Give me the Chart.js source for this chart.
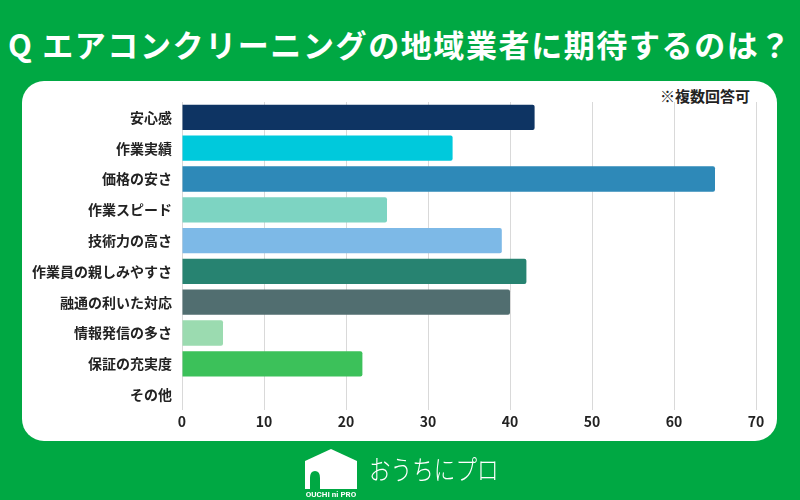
<!DOCTYPE html>
<html lang="ja">
<head>
<meta charset="utf-8">
<script src="https://cdn.jsdelivr.net/npm/chart.js@4"></script>
<style>
  html, body { margin: 0; padding: 0; }
  body {
    width: 800px; height: 500px; overflow: hidden; position: relative;
    background: #00a843;
    font-family: "Noto Sans CJK JP", "Noto Sans", sans-serif;
  }
  #title {
    position: absolute; left: 0; top: 21px; width: 800px;
    text-align: center; color: #fff; font-weight: 700; font-size: 31px;
    line-height: 46px; white-space: nowrap; letter-spacing: 1.6px;
  }
  #panel {
    position: absolute; left: 22px; top: 81px; width: 755px; height: 360px;
    background: #fff; border-radius: 22px;
  }
  #note {
    position: absolute; left: 660px; top: 86px; color: #222;
    font-weight: 700; font-size: 15px; line-height: 20px;
  }
  #chart { position: absolute; left: 0; top: 0; }
  #logo { position: absolute; left: 304px; top: 448px; }
  #brand {
    position: absolute; left: 369px; top: 449px; color: #fff;
    font-size: 27px; font-weight: 300; line-height: 40px;
    transform: scaleX(0.8); transform-origin: left center; white-space: nowrap;
  }
</style>
</head>
<body>
<div id="title">Q エアコンクリーニングの地域業者に期待するのは？</div>
<div id="panel"></div>
<div id="note">※複数回答可</div>
<canvas id="chart" width="800" height="500"></canvas>
<svg id="logo" width="54" height="50" viewBox="0 0 54 50">
  <path d="M1 13 L27 1 L53 13 L53 41 L1 41 Z" fill="#fff"/>
  <path d="M6 41 L6 30 Q6 23 11 23 Q16 23 16 30 L16 41 Z" fill="#00a843"/>
  <text x="27" y="49" text-anchor="middle" fill="#fff" font-size="8" font-family="Roboto" font-weight="700">OUCHI ni PRO</text>
</svg>
<div id="brand">おうちにプロ</div>
<script>
// 項目と回答数
const categories = ['安心感', '作業実績', '価格の安さ', '作業スピード', '技術力の高さ',
    '作業員の親しみやすさ', '融通の利いた対応', '情報発信の多さ', '保証の充実度', 'その他'];
const answers = [43, 33, 65, 25, 39, 42, 40, 5, 22, 0];
const barColors = ['#0e3463', '#00c9dc', '#2e89b8', '#7dd4c2', '#7db9e7',
    '#278371', '#516e70', '#9bdbb0', '#3cc15a', '#cccccc'];
const xTicks = [0, 10, 20, 30, 40, 50, 60, 70];

const tickFont = { family: '"Noto Sans CJK JP", sans-serif', size: 14, weight: 'bold' };

const config = {
    type: 'bar',
    data: {
        labels: categories,
        datasets: [{
            data: answers,
            backgroundColor: barColors,
            borderRadius: 2,
            borderSkipped: 'start',
            categoryPercentage: 0.82,
            barPercentage: 1
        }]
    },
    options: {
        indexAxis: 'y',
        responsive: false,
        animation: false,
        layout: { padding: { top: 102, right: 44, bottom: 0, left: 0 } },
        plugins: { legend: { display: false }, tooltip: { enabled: false } },
        scales: {
            x: {
                min: 0, max: 70,
                afterBuildTicks: (scale) => { scale.ticks = xTicks.map(v => ({ value: v })); },
                afterFit: (scale) => { scale.height = 90; },
                grid: { color: '#d9d9d9', drawTicks: false },
                border: { display: false },
                ticks: { color: '#222', font: tickFont, padding: 3 }
            },
            y: {
                afterFit: (scale) => { scale.width = 182; },
                grid: { display: false },
                border: { display: false },
                ticks: { color: '#222', font: tickFont, padding: 2 }
            }
        }
    }
};

new Chart(document.getElementById('chart'), config);
</script>
</body>
</html>
